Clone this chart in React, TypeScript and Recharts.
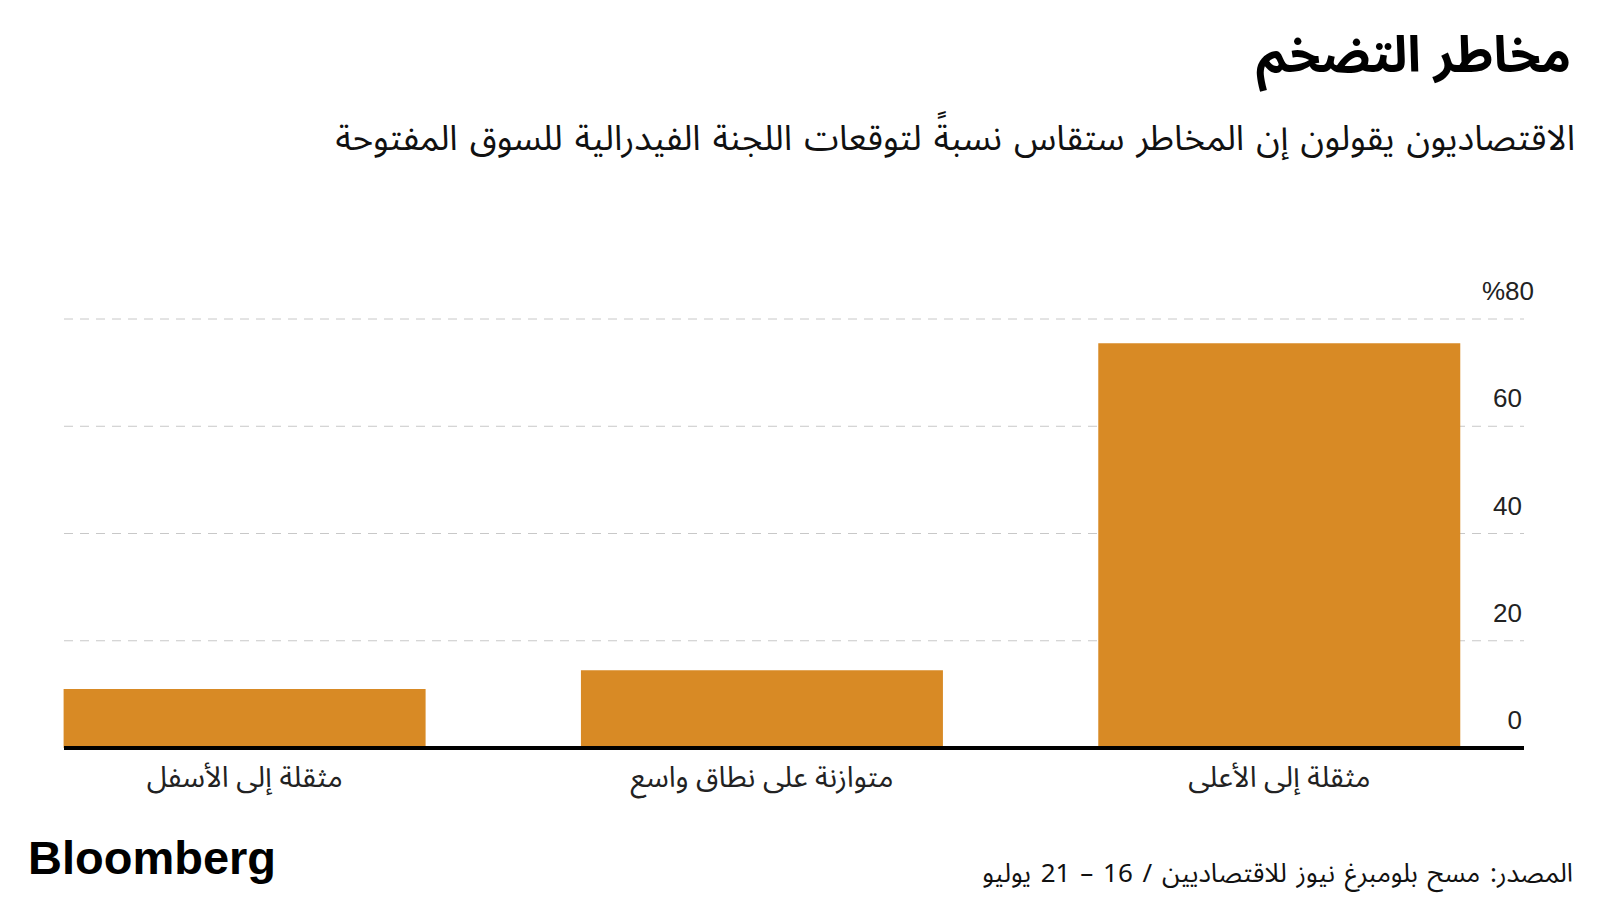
import { BarChart, Bar, XAxis, YAxis, CartesianGrid } from 'recharts';

const categories = ['مثقلة إلى الأعلى', 'متوازنة على نطاق واسع', 'مثقلة إلى الأسفل'];
const shares = [75.5, 14.5, 11];
const yTicks = [0, 20, 40, 60, 80];

const title = 'مخاطر التضخم';
const subtitle = 'الاقتصاديون يقولون إن المخاطر ستقاس نسبةً لتوقعات اللجنة الفيدرالية للسوق المفتوحة';
const source = 'المصدر: مسح بلومبرغ نيوز للاقتصاديين / 16 – 21 يوليو';

const arabicFont = "'Noto Sans Arabic', 'Noto Naskh Arabic', 'DejaVu Sans', sans-serif";
const latinFont = "'Liberation Sans', Arial, sans-serif";

const data = categories.map((name, i) => ({ name, value: shares[i] }));

function YTick({ x, y, payload }: any) {
  const top = payload.value === 80;
  return (
    <text
      x={x - 10 + (top ? 12 : 0)}
      y={y - 19}
      textAnchor="end"
      fontFamily={latinFont}
      fontSize={26}
      fill="#222"
    >
      {top ? '%80' : payload.value}
    </text>
  );
}

function XTick({ x, y, payload }: any) {
  return (
    <text x={x} y={y + 31} textAnchor="middle" fontFamily={arabicFont} fontSize={29} fill="#222">
      {payload.value}
    </text>
  );
}

export default function App() {
  return (
    <div style={{ position: 'absolute', left: 0, top: 0, width: 1600, height: 900, background: '#fff' }}>
      <div
        style={{
          position: 'absolute',
          right: 29,
          top: 26,
          direction: 'rtl',
          fontFamily: arabicFont,
          fontWeight: 'bold',
          fontSize: 50,
          lineHeight: 1.2,
          color: '#000',
        }}
      >
        {title}
      </div>
      <div
        style={{
          position: 'absolute',
          right: 25,
          top: 118,
          direction: 'rtl',
          fontFamily: arabicFont,
          fontSize: 35,
          wordSpacing: 3,
          lineHeight: 1.2,
          color: '#111',
          whiteSpace: 'nowrap',
        }}
      >
        {subtitle}
      </div>
      <div style={{ position: 'absolute', left: 0, top: 0 }}>
        <BarChart
          width={1600}
          height={900}
          data={data}
          barCategoryGap="15%"
          margin={{ top: 319, right: 0, bottom: 92, left: 64 }}
        >
          <CartesianGrid vertical={false} stroke="#c8c8c8" strokeDasharray="9 7" horizontalValues={[20, 40, 60, 80]} />
          <XAxis
            dataKey="name"
            reversed
            height={60}
            padding={{ left: -78, right: -14 }}
            axisLine={{ stroke: '#000', strokeWidth: 4 }}
            tickLine={false}
            tick={<XTick />}
            interval={0}
          />
          <YAxis
            orientation="right"
            width={76}
            domain={[0, 80]}
            ticks={yTicks}
            axisLine={false}
            tickLine={false}
            tick={<YTick />}
          />
          <Bar dataKey="value" fill="#d88a25" isAnimationActive={false} />
        </BarChart>
      </div>
      <div
        style={{
          position: 'absolute',
          left: 28,
          top: 830,
          fontFamily: latinFont,
          fontWeight: 'bold',
          fontSize: 47,
          letterSpacing: 0,
          color: '#000',
        }}
      >
        Bloomberg
      </div>
      <div
        style={{
          position: 'absolute',
          right: 27,
          top: 860,
          direction: 'rtl',
          fontFamily: arabicFont,
          fontSize: 26,
          wordSpacing: 3,
          lineHeight: 1.1,
          color: '#111',
          whiteSpace: 'nowrap',
        }}
      >
        {source}
      </div>
    </div>
  );
}
